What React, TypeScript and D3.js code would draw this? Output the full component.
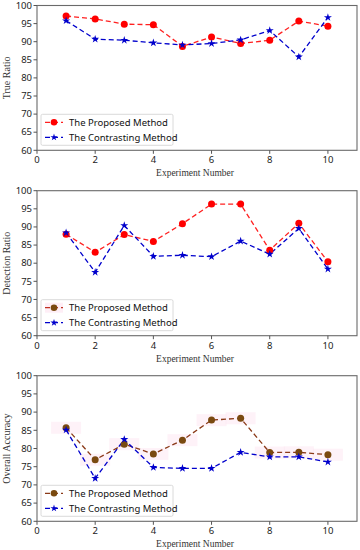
import React from 'react';
import * as d3 from 'd3';

// experiment indices on the x axis
const experiments = [1, 2, 3, 4, 5, 6, 7, 8, 9, 10];
const xTicks = [0, 2, 4, 6, 8, 10];
const yTicks = [60, 65, 70, 75, 80, 85, 90, 95, 100];

const trueProposed = [97.1, 96.3, 94.85, 94.7, 88.7, 91.3, 89.5, 90.4, 95.7, 94.3];
const trueContrast = [95.8, 90.7, 90.4, 89.7, 89.1, 89.5, 90.5, 93.1, 85.8, 96.7];

const detProposed = [88.0, 83.0, 87.9, 86.0, 90.9, 96.3, 96.3, 83.6, 91.0, 80.4];
const detContrast = [88.4, 77.5, 90.4, 81.9, 82.2, 81.8, 86.1, 82.5, 89.6, 78.4];

const accProposed = [85.7, 76.9, 81.2, 78.5, 82.3, 87.8, 88.3, 78.9, 78.95, 78.3];
const accContrast = [85.1, 71.8, 82.5, 74.8, 74.55, 74.55, 78.95, 77.7, 77.7, 76.3];

const legendLabels = ['The Proposed Method', 'The Contrasting Method'];

const SANS = '"Noto Sans", "Open Sans", sans-serif';
const SERIF = '"Liberation Serif", "DejaVu Serif", serif';

type PanelProps = {
  top: number;
  bottom: number;
  yLabel: string;
  proposed: number[];
  contrast: number[];
  brown?: boolean; // third panel uses brown markers with pink halos
  legendBrown?: boolean; // second panel's legend swatch is brown too
};

const Panel = ({ top, bottom, yLabel, proposed, contrast, brown, legendBrown }: PanelProps) => {
  const left = 37;
  const right = 357;
  const x = d3.scaleLinear().domain([0, 11]).range([left, right]);
  const y = d3.scaleLinear().domain([60, 100]).range([bottom, top]);

  const line = d3.line<number>()
    .x((d, i) => x(experiments[i]))
    .y(d => y(d));

  const star = d3.symbol().type(d3.symbolStar).size(20)() as string;
  const starSmall = d3.symbol().type(d3.symbolStar).size(16)() as string;

  const brownMarker = '#7a4a10';
  const propMarker = brown ? brownMarker : '#ff0000';
  const propLine = brown ? '#8a3a18' : '#ff2020';
  const blue = '#0000cc';

  const legTop = bottom - 36;
  const legLeft = 41;
  const legMarker = brown || legendBrown ? brownMarker : propMarker;
  const legLine = legendBrown ? '#c03020' : propLine;

  return (
    <g>
      {/* y axis label */}
      <text
        transform={`translate(10,${(top + bottom) / 2}) rotate(-90)`}
        textAnchor="middle"
        fontFamily={SERIF}
        fontSize={10}
        fill="#333"
      >
        {yLabel}
      </text>

      {/* faint pink halos behind proposed points (third chart only) */}
      {brown && proposed.map((v, i) => (
        <rect
          key={'h' + i}
          x={x(experiments[i]) - 15}
          y={y(v) - 6}
          width={30}
          height={12}
          fill="#fde3f0"
          opacity={0.45}
        />
      ))}

      {/* series */}
      <path d={line(proposed) || ''} fill="none" stroke={propLine} strokeWidth={1.3} strokeDasharray="5,3" />
      <path d={line(contrast) || ''} fill="none" stroke={blue} strokeWidth={1.3} strokeDasharray="5,3" />
      {proposed.map((v, i) => (
        <circle key={'p' + i} cx={x(experiments[i])} cy={y(v)} r={3.5} fill={propMarker} />
      ))}
      {contrast.map((v, i) => (
        <path key={'c' + i} d={star} transform={`translate(${x(experiments[i])},${y(v)})`} fill={blue} />
      ))}

      {/* frame */}
      <rect x={left} y={top} width={right - left} height={bottom - top} fill="none" stroke="#6a6a6a" strokeWidth={1.1} />

      {/* y ticks */}
      {yTicks.map(t => (
        <g key={'y' + t}>
          <line x1={left - 3.5} x2={left} y1={y(t)} y2={y(t)} stroke="#555" />
          <text x={left - 5} y={y(t)} dy="0.34em" textAnchor="end" fontFamily={SANS} fontSize={9.5} fill="#222">
            {t}
          </text>
        </g>
      ))}

      {/* x ticks */}
      {xTicks.map(t => (
        <g key={'x' + t}>
          <line x1={x(t)} x2={x(t)} y1={bottom} y2={bottom + 3.5} stroke="#555" />
          <text x={x(t)} y={bottom + 13} textAnchor="middle" fontFamily={SANS} fontSize={9.5} fill="#222">
            {t}
          </text>
        </g>
      ))}

      {/* x axis label */}
      <text x={(left + right) / 2 - 2} y={bottom + 26} textAnchor="middle" fontFamily={SERIF} fontSize={9.5} fill="#333">
        Experiment Number
      </text>

      {/* legend */}
      <rect x={legLeft} y={legTop} width={132} height={31} fill="#fff" stroke="#d0d0d0" strokeWidth={0.8} rx={1.5} />
      {legendBrown && (
        <rect x={legLeft + 4} y={legTop + 3} width={18} height={10} fill="#fde3f0" opacity={0.6} />
      )}
      <line x1={legLeft + 4} x2={legLeft + 22} y1={legTop + 8} y2={legTop + 8} stroke={legLine} strokeWidth={1.3} strokeDasharray="5,3" />
      <circle cx={legLeft + 13} cy={legTop + 8} r={3.3} fill={legMarker} />
      <text x={legLeft + 28} y={legTop + 8} dy="0.34em" fontFamily={SANS} fontSize={9.5} fill="#111">
        {legendLabels[0]}
      </text>
      <line x1={legLeft + 4} x2={legLeft + 22} y1={legTop + 23} y2={legTop + 23} stroke={blue} strokeWidth={1.3} strokeDasharray="5,3" />
      <path d={starSmall} transform={`translate(${legLeft + 13},${legTop + 23})`} fill={blue} />
      <text x={legLeft + 28} y={legTop + 23} dy="0.34em" fontFamily={SANS} fontSize={9.5} fill="#111">
        {legendLabels[1]}
      </text>
    </g>
  );
};

export default function App() {
  return (
    <svg
      width={360}
      height={550}
      style={{ position: 'absolute', left: 0, top: 0, background: '#fff' }}
    >
      <rect width={360} height={550} fill="#fff" />
      <Panel top={5.5} bottom={150.3} yLabel="True Ratio" proposed={trueProposed} contrast={trueContrast} />
      <Panel top={190.7} bottom={335.7} yLabel="Detection Ratio" proposed={detProposed} contrast={detContrast} legendBrown />
      <Panel top={375.7} bottom={521.3} yLabel="Overall Accuracy" proposed={accProposed} contrast={accContrast} brown />
    </svg>
  );
}
